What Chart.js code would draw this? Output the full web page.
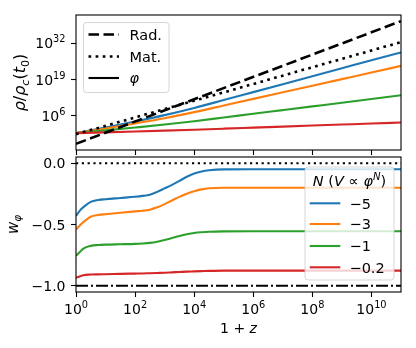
<!DOCTYPE html>
<html>
<head>
<meta charset="utf-8">
<title>Scalar field density and equation of state</title>
<script src="https://cdn.jsdelivr.net/npm/chart.js@4.4.1/dist/chart.umd.min.js"></script>
<style>
  body { margin: 0; background: #fff; }
  #wrap { position: relative; width: 416px; height: 348px; }
  canvas { position: absolute; left: 0; }
</style>
</head>
<body>
<div id="wrap">
  <canvas id="rhoChart" width="416" height="157" style="top:0"></canvas>
  <canvas id="wChart" width="416" height="198" style="top:150px"></canvas>
</div>
<script>
// ---- values ----
// top panel: rho / rho_c(t0) against 1+z
const zEnds = [1, 1e11];
const radDensity = [1.0e-4, 8.0e39];
const matDensity = [0.28, 2.5e32];

const zDecades = [1, 1e1, 1e2, 1e3, 1e4, 1e5, 1e6, 1e7, 1e8, 1e9, 1e10, 1e11];
// log10(rho_phi / rho_c(t0)) at each decade, one list per N
const logRhoN5 = [-0.15, 1.83, 3.99, 6.27, 8.84, 11.66, 14.51, 17.36, 20.21, 23.06, 25.91, 28.7];
const logRhoN3 = [-0.15, 1.5, 3.3, 5.19, 7.35, 9.72, 12.1, 14.45, 16.8, 19.15, 21.5, 23.9];
const logRhoN1 = [-0.15, 0.81, 1.83, 2.9, 4.11, 5.43, 6.76, 8.08, 9.4, 10.72, 12.05, 13.4];
const logRhoN02 = [-0.15, 0.12, 0.41, 0.73, 1.07, 1.43, 1.8, 2.17, 2.54, 2.91, 3.28, 3.62];

// bottom panel: w_phi against 1+z
const zW = [1, 1.37, 1.78, 3.16, 5.62, 10, 31.6, 100, 178, 316, 562, 1000, 1780, 3160, 5620,
            1e4, 1.78e4, 3.16e4, 1e5, 1e6, 1e7, 1e8, 1e9, 1e10, 1e11];
const wN5 = [-0.43, -0.385, -0.358, -0.316, -0.301, -0.294, -0.284, -0.274, -0.267, -0.257, -0.234, -0.206, -0.177, -0.145, -0.111,
             -0.085, -0.068, -0.058, -0.051, -0.05, -0.05, -0.05, -0.05, -0.05, -0.05];
const wN3 = [-0.54, -0.506, -0.48, -0.437, -0.423, -0.416, -0.404, -0.393, -0.388, -0.379, -0.36, -0.334, -0.304, -0.275, -0.25,
             -0.229, -0.214, -0.205, -0.2, -0.2, -0.2, -0.2, -0.2, -0.2, -0.2];
const wN1 = [-0.755, -0.723, -0.696, -0.674, -0.667, -0.664, -0.661, -0.658, -0.655, -0.65, -0.64, -0.626, -0.61, -0.594, -0.58,
             -0.569, -0.563, -0.559, -0.556, -0.555, -0.555, -0.555, -0.555, -0.555, -0.555];
const wN02 = [-0.935, -0.922, -0.913, -0.908, -0.906, -0.905, -0.902, -0.9, -0.899, -0.897, -0.895, -0.893, -0.89, -0.887, -0.884,
              -0.882, -0.88, -0.878, -0.876, -0.876, -0.876, -0.876, -0.876, -0.876, -0.876];
const wMatter = [0, 0];
const wLambda = [-1, -1];

const nLabels = ['\u22125', '\u22123', '\u22121', '\u22120.2'];
const nColors = ['#1f77b4', '#ff7f0e', '#2ca02c', '#d62728'];

const xTicks = [1, 1e2, 1e4, 1e6, 1e8, 1e10];
const rhoTicks = [1e6, 1e19, 1e32];
const wTicks = [0, -0.5, -1];
const wTickLabels = ['0.0', '\u22120.5', '\u22121.0'];

// ---- drawing helpers ----
const FAMILY = '"DejaVu Sans"';
const TICK_PX = 14;
const LEGEND_PX = 14.5;

// parts: [text, style]; style r / i, optionally with sub or sup
function drawMath(ctx, parts, x, y, size, align) {
    let w = 0;
    const runs = parts.map(([t, st]) => {
        const small = st.includes('sub') || st.includes('sup');
        const px = small ? size * 0.7 : size;
        const font = (st[0] === 'i' ? 'italic ' : '') + px + 'px ' + FAMILY;
        ctx.font = font;
        const dy = st.includes('sub') ? size * 0.22 : (st.includes('sup') ? -size * 0.42 : 0);
        const run = { t, font, x: w, dy };
        w += ctx.measureText(t).width;
        return run;
    });
    const x0 = align === 'center' ? x - w / 2 : (align === 'right' ? x - w : x);
    ctx.textAlign = 'left';
    ctx.textBaseline = 'alphabetic';
    ctx.fillStyle = '#000';
    runs.forEach(r => {
        ctx.font = r.font;
        ctx.fillText(r.t, x0 + r.x, y + r.dy);
    });
}

function pow10Parts(v) {
    return [['10', 'r'], [String(Math.round(Math.log10(v))), 'rsup']];
}

function drawFrame(ctx, a) {
    ctx.save();
    ctx.strokeStyle = '#000';
    ctx.lineWidth = 1.1;
    ctx.strokeRect(a.left, a.top, a.right - a.left, a.bottom - a.top);
    ctx.restore();
}

function legendBox(ctx, x0, y0, x1, y1) {
    ctx.save();
    ctx.beginPath();
    ctx.roundRect(x0, y0, x1 - x0, y1 - y0, 3);
    ctx.fillStyle = 'rgba(255,255,255,0.8)';
    ctx.fill();
    ctx.strokeStyle = 'rgba(204,204,204,0.8)';
    ctx.lineWidth = 1;
    ctx.stroke();
    ctx.restore();
}

function handle(ctx, x0, x1, y, color, width, dash) {
    ctx.save();
    ctx.beginPath();
    ctx.setLineDash(dash);
    ctx.strokeStyle = color;
    ctx.lineWidth = width;
    ctx.moveTo(x0, y);
    ctx.lineTo(x1, y);
    ctx.stroke();
    ctx.restore();
}

function logXScale(axisHeight) {
    return {
        type: 'logarithmic',
        min: 1,
        max: 1e11,
        bounds: 'data',
        afterBuildTicks: s => { s.ticks = xTicks.map(v => ({ value: v })); },
        afterFit: s => { s.height = axisHeight; },
        ticks: { display: false },
        grid: { display: true, drawOnChartArea: false, drawTicks: true, tickLength: 5, tickWidth: 1.1, tickColor: '#000' },
        border: { display: false }
    };
}

function yScaleBase() {
    return {
        position: 'left',
        bounds: 'data',
        afterFit: s => { s.width = 76; },
        ticks: { display: false },
        grid: { display: true, drawOnChartArea: false, drawTicks: true, tickLength: 5, tickWidth: 1.1, tickColor: '#000' },
        border: { display: false }
    };
}

function curve(label, xs, ys, color, width, dash, order, smooth) {
    return {
        label: label,
        data: xs.map((x, i) => ({ x: x, y: ys[i] })),
        borderColor: color,
        borderWidth: width,
        borderDash: dash,
        borderCapStyle: 'butt',
        pointRadius: 0,
        fill: false,
        order: order,
        cubicInterpolationMode: smooth ? 'monotone' : 'default',
        tension: 0
    };
}

// ---- top panel ----
const rhoDecor = {
    id: 'rhoDecor',
    afterDraw(chart) {
        const ctx = chart.ctx;
        const a = chart.chartArea;
        const y = chart.scales.y;
        drawFrame(ctx, a);
        rhoTicks.forEach(v => {
            drawMath(ctx, pow10Parts(v), 65.5, y.getPixelForValue(v) + 5, TICK_PX, 'right');
        });
        // y title
        ctx.save();
        ctx.translate(25, (a.top + a.bottom) / 2);
        ctx.rotate(-Math.PI / 2);
        drawMath(ctx, [['\u03c1', 'i'], ['/', 'r'], ['\u03c1', 'i'], ['c', 'isub'], ['(', 'r'], ['t', 'i'], ['0', 'rsub'], [')', 'r']], 0, 0, 16, 'center');
        ctx.restore();
        // legend
        legendBox(ctx, 83.5, 22.5, 169, 92.5);
        handle(ctx, 88.5, 119, 34.5, '#000', 2.6, [10.5, 4.5]);
        handle(ctx, 88.5, 119, 56.5, '#000', 2.6, [2.7, 4.4]);
        handle(ctx, 88.5, 119, 78, '#000', 2.1, []);
        drawMath(ctx, [['Rad.', 'r']], 129.5, 39.7, LEGEND_PX, 'left');
        drawMath(ctx, [['Mat.', 'r']], 129.5, 61.7, LEGEND_PX, 'left');
        drawMath(ctx, [['\u03c6', 'i']], 129.5, 83.2, LEGEND_PX, 'left');
    }
};

const rhoPhi = [logRhoN5, logRhoN3, logRhoN1, logRhoN02];

new Chart(document.getElementById('rhoChart'), {
    type: 'line',
    data: {
        datasets: [
            curve('Rad.', zEnds, radDensity, '#000', 2.6, [10.5, 4.5], 0, false),
            curve('Mat.', zEnds, matDensity, '#000', 2.6, [2.7, 4.4], 1, false)
        ].concat(rhoPhi.map((logs, i) =>
            curve(nLabels[i], zDecades, logs.map(e => Math.pow(10, e)), nColors[i], 2.1, [], 5 - i, true)))
    },
    options: {
        responsive: false,
        animation: false,
        events: [],
        layout: { padding: { top: 15, right: 15, left: 0, bottom: 0 } },
        scales: {
            x: logXScale(7),
            y: Object.assign(yScaleBase(), {
                type: 'logarithmic',
                min: Math.pow(10, -6.2),
                max: Math.pow(10, 42.1),
                afterBuildTicks: s => { s.ticks = rhoTicks.map(v => ({ value: v })); }
            })
        },
        plugins: { legend: { display: false }, tooltip: { enabled: false } }
    },
    plugins: [rhoDecor]
});

// ---- bottom panel ----
const wDecor = {
    id: 'wDecor',
    afterDraw(chart) {
        const ctx = chart.ctx;
        const a = chart.chartArea;
        const x = chart.scales.x;
        const y = chart.scales.y;
        drawFrame(ctx, a);
        wTicks.forEach((v, i) => {
            drawMath(ctx, [[wTickLabels[i], 'r']], 65.5, y.getPixelForValue(v) + 5, TICK_PX, 'right');
        });
        xTicks.forEach(v => {
            drawMath(ctx, pow10Parts(v), x.getPixelForValue(v), a.bottom + 21.5, TICK_PX, 'center');
        });
        drawMath(ctx, [['1', 'r'], [' + ', 'r'], ['z', 'i']], (a.left + a.right) / 2, 183, TICK_PX, 'center');
        // y title
        ctx.save();
        ctx.translate(18, (a.top + a.bottom) / 2);
        ctx.rotate(-Math.PI / 2);
        drawMath(ctx, [['w', 'i'], ['\u03c6', 'isub']], 0, 0, 15, 'center');
        ctx.restore();
        // legend
        const top = a.top + 10;
        legendBox(ctx, 305, top, 394, top + 113);
        drawMath(ctx, [['N', 'i'], [' (', 'r'], ['V', 'i'], [' \u221d ', 'r'], ['\u03c6', 'i'], ['N', 'isup'], [')', 'r']], 349.5, top + 19, LEGEND_PX, 'center');
        const rows = [36.3, 57, 79, 100.3];
        rows.forEach((dy, i) => {
            handle(ctx, 309.7, 340.3, top + dy, nColors[i], 2.1, []);
            drawMath(ctx, [[nLabels[i], 'r']], 349.5, top + dy + 5.2, LEGEND_PX, 'left');
        });
    }
};

const wPhi = [wN5, wN3, wN1, wN02];

new Chart(document.getElementById('wChart'), {
    type: 'line',
    data: {
        datasets: [
            curve('matter', zEnds, wMatter, '#000', 2, [2.2, 3.6], 0, false),
            curve('lambda', zEnds, wLambda, '#000', 2, [12, 3, 2, 3], 1, false)
        ].concat(wPhi.map((ws, i) =>
            curve(nLabels[i], zW, ws, nColors[i], 2.1, [], 5 - i, true)))
    },
    options: {
        responsive: false,
        animation: false,
        events: [],
        layout: { padding: { top: 7, right: 15, left: 0, bottom: 0 } },
        scales: {
            x: logXScale(56),
            y: Object.assign(yScaleBase(), {
                type: 'linear',
                min: -1.05,
                max: 0.05,
                afterBuildTicks: s => { s.ticks = wTicks.map(v => ({ value: v })); }
            })
        },
        plugins: { legend: { display: false }, tooltip: { enabled: false } }
    },
    plugins: [wDecor]
});
</script>
</body>
</html>
